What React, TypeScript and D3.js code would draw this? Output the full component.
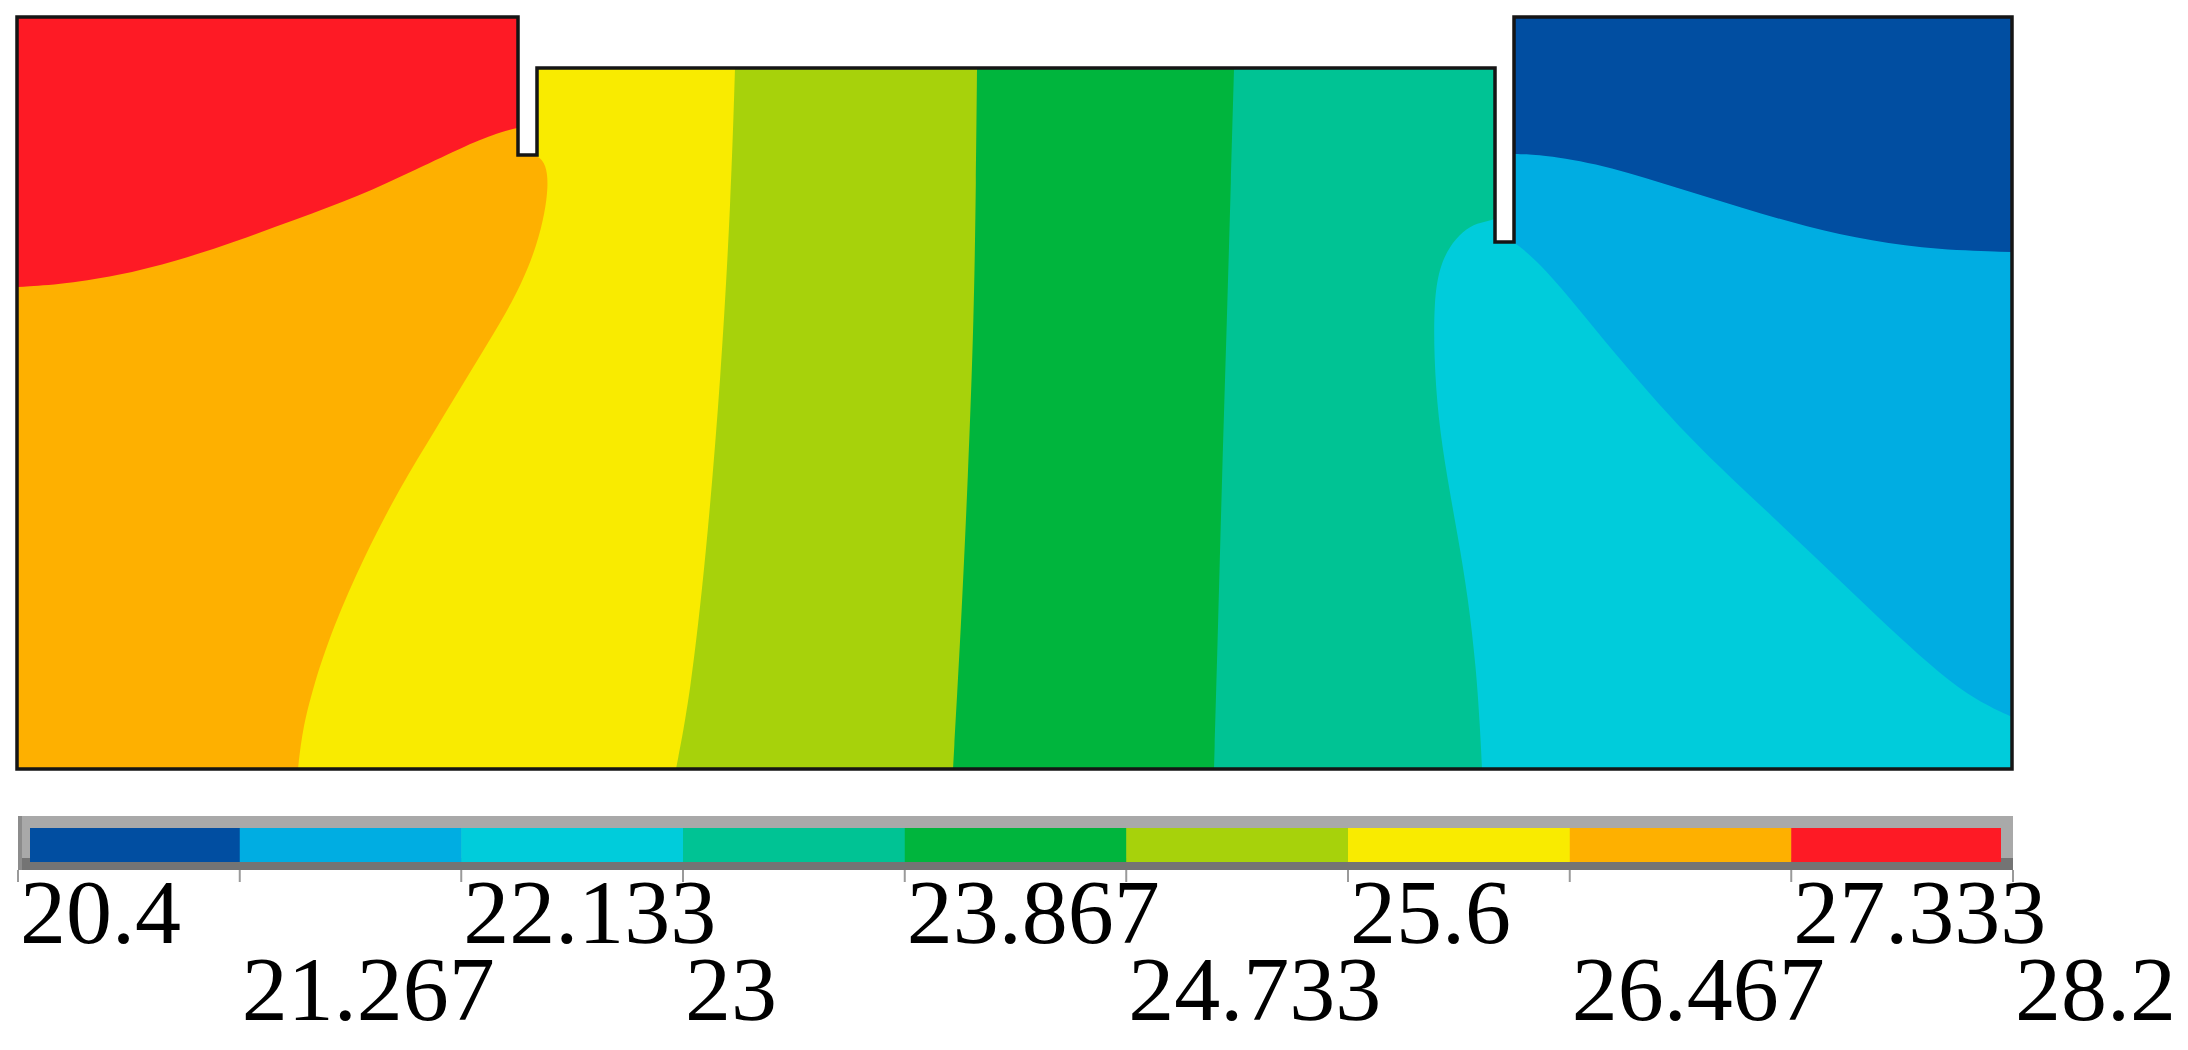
import React from 'react';
import * as d3 from 'd3';

// ---- model geometry (model units) ----
const W = 1995;
const H = 752;
const PAD = 40;

const levels = [20.4, 21.267, 22.133, 23, 23.867, 24.733, 25.6, 26.467, 27.333, 28.2];
const levelLabels = ['20.4', '21.267', '22.133', '23', '23.867', '24.733', '25.6', '26.467', '27.333', '28.2'];
const bandColors = ['#014ea1', '#00ade2', '#00ccdb', '#00c394', '#00b53d', '#a7d20b', '#f9eb00', '#feb000', '#fe1a25'];

// domain outline with two slots
const outline: [number, number][] = [
  [0, 0], [501, 0], [501, 138], [520, 138], [520, 51], [1478, 51], [1478, 225],
  [1497, 225], [1497, 0], [1995, 0], [1995, 752], [0, 752],
];

// isotherm boundaries
const redOrange: [number, number][] = [
  [0, 270], [40, 268], [100, 259], [160, 244], [220, 224], [280, 202], [340, 180],
  [400, 152], [450, 128], [485, 114], [511, 109],
];
const orangeYellow: [number, number][] = [
  [511, 136], [524, 140], [530, 152], [531, 170], [528, 195], [520, 228],
  [505, 266], [484, 305], [455, 352], [420, 410], [382, 472], [347, 540],
  [316, 610], [296, 670], [285, 715], [281, 752],
];
const yellowLime: [number, number][] = [
  [718, 51], [714, 180], [704, 360], [689, 540], [673, 680], [659, 752],
];
const limeGreen: [number, number][] = [
  [960, 51], [959, 160], [957, 300], [951, 460], [944, 610], [936, 752],
];
const greenTeal: [number, number][] = [
  [1217, 51], [1214, 160], [1210, 300], [1205, 460], [1201, 610], [1197, 752],
];
const tealCyan: [number, number][] = [
  [1488, 198], [1476, 203], [1460, 206], [1446, 214], [1432, 230], [1422, 252],
  [1417, 285], [1417, 340], [1421, 400], [1430, 460], [1441, 520], [1451, 580],
  [1459, 650], [1463, 710], [1465, 752],
];
const cyanBlue: [number, number][] = [
  [1490, 222], [1502, 228], [1528, 252], [1560, 290], [1595, 333], [1632, 376],
  [1672, 420], [1714, 461], [1756, 500], [1798, 540], [1840, 580], [1882, 620],
  [1922, 656], [1960, 684], [1995, 700],
];
const blueDark: [number, number][] = [
  [1490, 137], [1500, 137], [1530, 138], [1595, 150], [1660, 171], [1725, 191],
  [1790, 210], [1855, 224], [1921, 233], [1995, 235],
];

export default function App() {
  const xs = d3.scaleLinear().domain([0, W]).range([17, 2012]);
  const ys = d3.scaleLinear().domain([0, H]).range([17, 769]);
  const curve = d3.line<[number, number]>().x(d => xs(d[0])).y(d => ys(d[1])).curve(d3.curveBasis);
  const lin = (pts: [number, number][]) => pts.map(p => `L${xs(p[0])},${ys(p[1])}`).join('');

  const shape = (pre: [number, number][], pts: [number, number][], post: [number, number][]) => {
    const c = curve(pts) || '';
    const head = pre.length ? `M${xs(pre[0][0])},${ys(pre[0][1])}` + lin(pre.slice(1)) + 'L' + c.substring(1) : c;
    return head + lin(post) + 'Z';
  };

  const first = (p: [number, number][]) => p[0];
  const last = (p: [number, number][]) => p[p.length - 1];

  // region to the right of a top-to-bottom boundary
  const rightOf = (pts: [number, number][]) =>
    shape([[first(pts)[0], -PAD]], pts, [[last(pts)[0], H + PAD], [W + PAD, H + PAD], [W + PAD, -PAD]]);
  // region above a left-to-right boundary ending at right edge
  const aboveRight = (pts: [number, number][]) =>
    shape([[first(pts)[0], -PAD]], pts, [[W + PAD, last(pts)[1]], [W + PAD, -PAD]]);

  const outlinePath = d3.line<[number, number]>().x(d => xs(d[0])).y(d => ys(d[1]))(outline) + 'Z';

  const redPath = shape([[-PAD, -PAD], [-PAD, first(redOrange)[1]]], redOrange, [[last(redOrange)[0], -PAD]]);

  // colorbar
  const cb = d3.scaleLinear().domain([levels[0], levels[levels.length - 1]]).range([18, 2013]);
  const cbTop = 816, cbBot = 870, bandTop = 828, bandBot = 862, inset = 12;

  return (
    <svg width={2188} height={1050} style={{ position: 'absolute', left: 0, top: 0, display: 'block', background: '#fff' }}>
      <defs>
        <clipPath id="domain"><path d={outlinePath} /></clipPath>
        <clipPath id="band"><rect x={cb(levels[0]) + inset} y={bandTop} width={cb(levels[9]) - cb(levels[0]) - 2 * inset} height={bandBot - bandTop} /></clipPath>
      </defs>
      <g clipPath="url(#domain)">
        <rect x={xs(0) - 5} y={ys(0) - 5} width={xs(W) - xs(0) + 10} height={ys(H) - ys(0) + 10} fill={bandColors[7]} />
        <path d={rightOf(orangeYellow)} fill={bandColors[6]} />
        <path d={rightOf(yellowLime)} fill={bandColors[5]} />
        <path d={rightOf(limeGreen)} fill={bandColors[4]} />
        <path d={rightOf(greenTeal)} fill={bandColors[3]} />
        <path d={rightOf(tealCyan)} fill={bandColors[2]} />
        <path d={aboveRight(cyanBlue)} fill={bandColors[1]} />
        <path d={aboveRight(blueDark)} fill={bandColors[0]} />
        <path d={redPath} fill={bandColors[8]} />
      </g>
      <path d={outlinePath} fill="none" stroke="#151515" strokeWidth={3.5} strokeLinejoin="miter" />

      {/* colorbar */}
      <rect x={cb(levels[0])} y={cbTop} width={cb(levels[9]) - cb(levels[0])} height={cbBot - cbTop} fill="#a9a9a9" />
      <rect x={cb(levels[0])} y={bandBot - 4} width={cb(levels[9]) - cb(levels[0])} height={cbBot - bandBot + 4} fill="#747474" />
      <rect x={cb(levels[0])} y={cbTop} width={4} height={cbBot - cbTop} fill="#8c8c8c" />
      <g clipPath="url(#band)">
        {bandColors.map((c, i) => (
          <rect key={i} x={cb(levels[i])} y={bandTop} width={cb(levels[i + 1]) - cb(levels[i]) + 0.5} height={bandBot - bandTop} fill={c} />
        ))}
      </g>
      {levels.map((v, i) => (
        <line key={'t' + i} x1={cb(v)} x2={cb(v)} y1={cbBot} y2={cbBot + 12} stroke="#9a9a9a" strokeWidth={2} />
      ))}
      {levels.map((v, i) => (
        <text key={'l' + i} x={cb(v) + 2} y={i % 2 === 0 ? 943 : 1020} fontFamily="'Liberation Serif', 'Times New Roman', serif" fontSize={92} fill="#000">
          {levelLabels[i]}
        </text>
      ))}
    </svg>
  );
}
